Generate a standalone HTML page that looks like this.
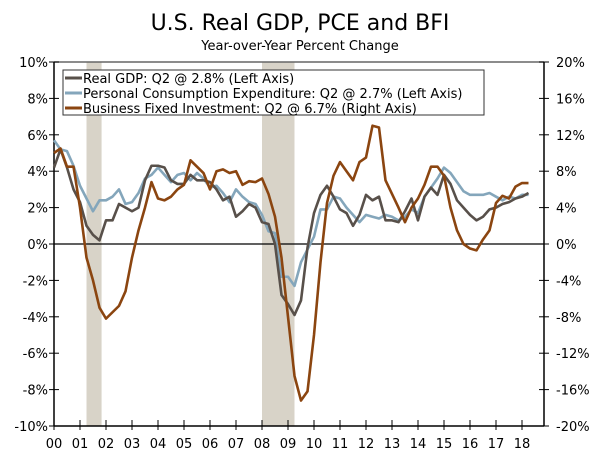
<!DOCTYPE html>
<html><head><meta charset="utf-8"><style>
body{margin:0;background:#fff;}
svg{display:block;font-family:"DejaVu Sans","Liberation Sans",sans-serif;}
</style></head><body>
<svg id="chart" width="600" height="457" xmlns="http://www.w3.org/2000/svg">
<text x="300" y="30" text-anchor="middle" font-size="22" fill="#000">U.S. Real GDP, PCE and BFI</text>
<text x="300" y="50" text-anchor="middle" font-size="13" fill="#000">Year-over-Year Percent Change</text>
<g id="rec"></g>
<line x1="54" y1="62" x2="544" y2="62" stroke="#666" stroke-width="1.5"/>
<g id="axes"></g>
<g id="series"></g>
<g>
<rect x="63" y="70" width="421" height="45" fill="#fff" stroke="#333" stroke-width="1"/>
<line x1="65" y1="78" x2="82" y2="78" stroke="#58504a" stroke-width="3"/>
<text x="83" y="83" font-size="13">Real GDP: Q2 @ 2.8% (Left Axis)</text>
<line x1="65" y1="93" x2="82" y2="93" stroke="#84a6bb" stroke-width="3"/>
<text x="83" y="98" font-size="13">Personal Consumption Expenditure: Q2 @ 2.7% (Left Axis)</text>
<line x1="65" y1="108" x2="82" y2="108" stroke="#8b4510" stroke-width="3"/>
<text x="83" y="113" font-size="13">Business Fixed Investment: Q2 @ 6.7% (Right Axis)</text>
</g>
</svg>
<script>
const years=["00","01","02","03","04","05","06","07","08","09","10","11","12","13","14","15","16","17","18"];
const leftTicks=[10,8,6,4,2,0,-2,-4,-6,-8,-10];
const rightTicks=[20,16,12,8,4,0,-4,-8,-12,-16,-20];
const recessions=[[2001.25,2001.83],[2008.0,2009.25]];
const gdp=[4.2,5.2,4.2,3.0,2.3,1.0,0.5,0.2,1.3,1.3,2.2,2.0,1.8,2.0,3.5,4.3,4.3,4.2,3.5,3.3,3.3,3.8,3.5,3.5,3.4,3.0,2.4,2.6,1.5,1.8,2.2,2.0,1.2,1.1,0.0,-2.8,-3.3,-3.9,-3.1,-0.2,1.7,2.7,3.2,2.6,1.9,1.7,1.0,1.6,2.7,2.4,2.6,1.3,1.3,1.2,1.8,2.5,1.3,2.6,3.1,2.7,3.8,3.3,2.4,2.0,1.6,1.3,1.5,1.9,2.0,2.2,2.3,2.5,2.6,2.8];
const pce=[5.7,5.2,5.1,4.3,3.2,2.5,1.8,2.4,2.4,2.6,3.0,2.2,2.3,2.8,3.6,3.8,4.2,3.8,3.4,3.8,3.9,3.5,3.9,3.6,3.1,3.2,2.8,2.3,3.0,2.6,2.3,2.2,1.6,0.7,0.6,-1.8,-1.8,-2.3,-1.0,-0.3,0.4,1.9,1.9,2.6,2.5,2.0,1.6,1.2,1.6,1.5,1.4,1.6,1.5,1.3,1.5,1.9,1.7,2.6,3.1,3.6,4.2,3.9,3.4,2.9,2.7,2.7,2.7,2.8,2.6,2.4,2.6,2.5,2.7,2.7];
const bfi=[10.0,10.5,8.5,8.5,4.0,-1.5,-4.0,-7.0,-8.2,-7.5,-6.8,-5.2,-1.5,1.5,4.0,6.8,5.0,4.8,5.2,6.0,6.5,9.2,8.5,7.8,6.0,8.0,8.2,7.8,8.0,6.5,6.9,6.8,7.2,5.5,3.0,-1.5,-8.0,-14.5,-17.2,-16.2,-10.0,-2.0,4.5,7.5,9.0,8.0,7.0,9.0,9.5,13.0,12.8,7.0,5.5,4.0,2.4,4.0,5.0,6.5,8.5,8.5,7.5,4.0,1.5,0.0,-0.5,-0.7,0.5,1.5,4.5,5.3,5.0,6.3,6.7,6.7];
const NS="http://www.w3.org/2000/svg";
const X0=54,XW=26,YT=62,YB=426;
const xs=t=>X0+(t-2000)*XW;
const yl=v=>YT+(10-v)*(YB-YT)/20;
const yr=v=>YT+(20-v)*(YB-YT)/40;
const qx=i=>xs(2000+i*0.25);
function mk(tag,attrs,parent){const e=document.createElementNS(NS,tag);for(const k in attrs)e.setAttribute(k,attrs[k]);parent.appendChild(e);return e;}
const rec=document.getElementById('rec'),ax=document.getElementById('axes'),se=document.getElementById('series');
recessions.forEach(r=>{const e=mk('rect',{x:xs(r[0]),y:YT,width:xs(r[1])-xs(r[0]),height:YB-YT,fill:'#d8d3c8'},rec);

});
let l=mk('line',{x1:X0,y1:YT,x2:X0,y2:YB,stroke:'#000','stroke-width':1.5},ax);

l=mk('line',{x1:544,y1:YT,x2:544,y2:YB,stroke:'#000','stroke-width':1.5},ax);

l=mk('line',{x1:X0,y1:YB,x2:544,y2:YB,stroke:'#000','stroke-width':1.5},ax);

l=mk('line',{x1:X0,y1:yl(0),x2:544,y2:yl(0),stroke:'#000','stroke-width':1.2},ax);

leftTicks.forEach(v=>{const y=yl(v);mk('line',{x1:X0-5,y1:y,x2:X0+5,y2:y,stroke:'#000','stroke-width':1},ax);
const t=mk('text',{x:X0-6,y:y+5,'text-anchor':'end','font-size':13},ax);t.textContent=v+'%';
});
rightTicks.forEach(v=>{const y=yr(v);mk('line',{x1:539,y1:y,x2:549,y2:y,stroke:'#000','stroke-width':1},ax);
const t=mk('text',{x:556,y:y+5,'font-size':13},ax);t.textContent=v+'%';
});
years.forEach((s,i)=>{const x=xs(2000+i);mk('line',{x1:x,y1:YB-6,x2:x,y2:YB+4,stroke:'#000','stroke-width':1},ax);
const t=mk('text',{x:x,y:448,'text-anchor':'middle','font-size':13},ax);t.textContent=s;
});
function draw(arr,yf,col,name){const p=mk('polyline',{points:arr.map((v,i)=>qx(i)+','+yf(v)).join(' '),fill:'none',stroke:col,'stroke-width':2.6,'stroke-linejoin':'round'},se);
}
draw(pce,yl,'#84a6bb','pce-line');
draw(gdp,yl,'#58504a','gdp-line');
draw(bfi,yr,'#8b4510','bfi-line');
</script>
</body></html>
